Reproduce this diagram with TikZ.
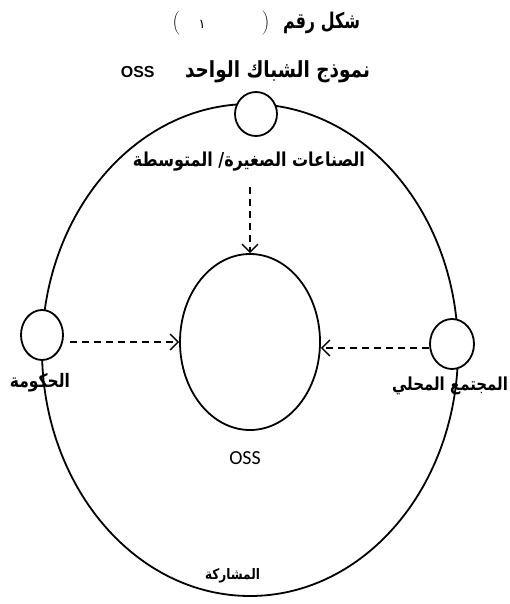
\documentclass[tikz,border=0pt]{standalone}
\usepackage{fontspec}
\usetikzlibrary{shapes.geometric,arrows.meta}
\TeXXeTstate=1
\newfontfamily\arabicfont[Script=Arabic]{DejaVu Sans}
\newfontfamily\latinfont{Liberation Sans}
\newfontfamily\calib{Carlito}
\newcommand{\arsize}[1]{\fontsize{#1}{#1}\selectfont}
\newcommand{\artext}[2]{\scalebox{1}[1.2]{\resizebox{#1}{!}{\arsize{16}#2}}}
\newcommand{\artitle}[2]{\scalebox{1}[1.35]{\resizebox{#1}{!}{\arsize{16}#2}}}
\begin{document}
\begin{tikzpicture}[x=1bp,y=-1bp,
  ring/.style={draw,line width=1.8bp,ellipse,inner sep=0pt},
  small/.style={ring,fill=white},
  flow/.style={draw,line width=1.8bp,dash pattern=on 7bp off 5bp,
     -{Straight Barb[length=8bp,width=16bp,line width=1.4bp]}},
  ar/.style={font=\arabicfont\bfseries,inner sep=0pt},
  paren/.style={inner sep=0pt,font=\fontsize{11.5}{12}\selectfont}
]
\useasboundingbox (0,0) rectangle (510,604);
\node[ring,minimum width=416bp,minimum height=492bp] (outer) at (250,350) {};
\node[ring,minimum width=140bp,minimum height=176bp] (oss) at (250,342) {};
\node[small,minimum width=42bp,minimum height=44bp] (sme) at (256,114) {};
\node[small,minimum width=42bp,minimum height=50bp] (gov) at (42,335) {};
\node[small,minimum width=44bp,minimum height=50bp] (com) at (452,344) {};

\node[ar] (title) at (321.5,23) {\artitle{77bp}{\beginR شكل رقم\endR}};
\node[paren] (lparen) at (176,23) {$\bigg($};
\node[inner sep=0pt,font=\arabicfont\arsize{13}] (num) at (202,24) {١};
\node[paren] (rparen) at (266,23) {$\bigg)$};
\node[ar] (model) at (277.5,72) {\artext{185bp}{\beginR نموذج الشباك الواحد\endR}};
\node[inner sep=0pt,anchor=east,font=\latinfont\bfseries\arsize{16}] (modeloss) at ([xshift=-30bp]model.west) {OSS};
\node[ar] (smel) at (249,162) {\artext{232bp}{\beginR الصناعات الصغيرة/ المتوسطة\endR}};
\node[ar] (govl) at (40,383) {\artext{60bp}{\beginR الحكومة\endR}};
\node[ar] (coml) at (450,386) {\artext{116bp}{\beginR المجتمع المحلي\endR}};
\node[ar] (part) at (232.5,576) {\artext{55bp}{\beginR المشاركة\endR}};
\node[font=\calib\arsize{20},inner sep=0pt] (ossl) at (245,458) {OSS};

\coordinate (smeEnd) at (250,187);
\draw[flow] (smeEnd) -- (oss.north);
\draw[flow,shorten <=6bp] (gov.east |- oss.west) -- (oss.west);
\draw[flow] (com.190) -- (oss.east |- com.190);
\end{tikzpicture}
\end{document}
